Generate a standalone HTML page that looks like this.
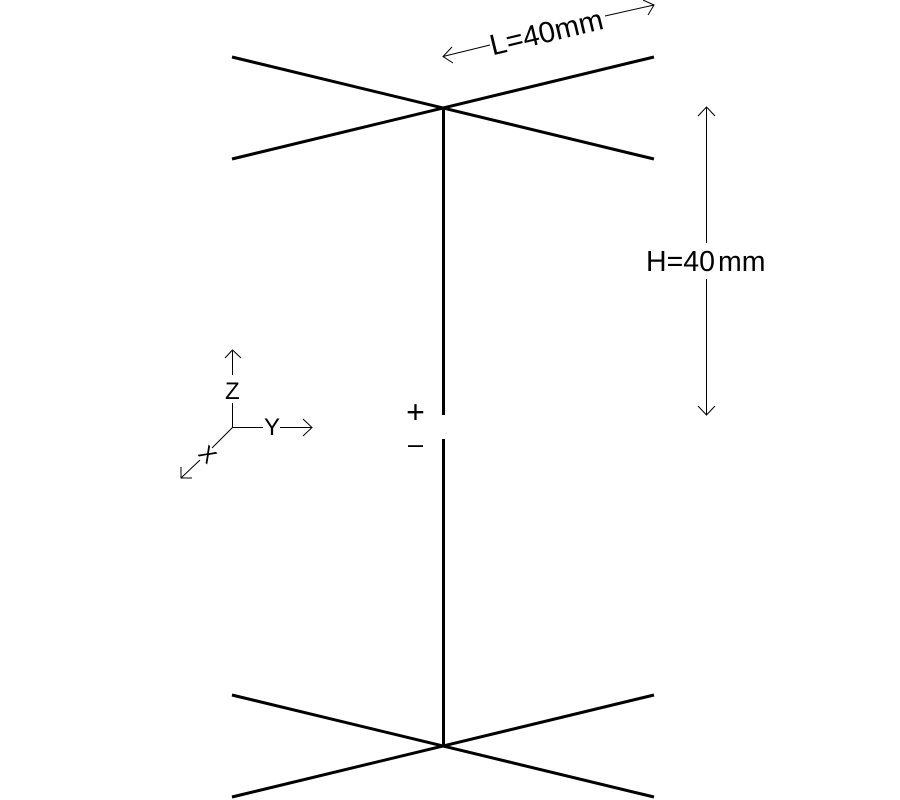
<!DOCTYPE html>
<html>
<head>
<meta charset="utf-8">
<style>
html,body{margin:0;padding:0;background:#fff;width:900px;height:800px;overflow:hidden}
svg{display:block}
text{font-family:"Liberation Sans",sans-serif;fill:#000}
</style>
</head>
<body>
<svg width="900" height="800" viewBox="0 0 900 800" xmlns="http://www.w3.org/2000/svg">
<g stroke="#000" stroke-width="3" fill="none">
<line x1="232" y1="57" x2="654" y2="159"/>
<line x1="232" y1="159" x2="654" y2="57"/>
<line x1="232" y1="695" x2="654" y2="797"/>
<line x1="232" y1="797" x2="654" y2="695"/>
<line x1="443.5" y1="107" x2="443.5" y2="415"/>
<line x1="443.5" y1="439" x2="443.5" y2="746"/>
</g>
<g stroke="#000" stroke-width="1" fill="none">
<path d="M490 45L443 56.500M452 47L443 56.500L453 63"/>
<path d="M605 16L654 5M643 0L654 5L648 15"/>
<path d="M706.500 243V108M698 116L706.500 107L715 116"/>
<path d="M706.500 279V415M698 406L706.500 415L715 406"/>
<path d="M232.500 375V351M225 358L232.500 350L241 358"/>
<path d="M232.500 403V427.500H263"/>
<path d="M280 427.500H312M303 419L312 427.500L303 436"/>
<path d="M232.500 427.500L212 448"/>
<path d="M200 460L181 478M181 467V478H192"/>
</g>
<text transform="translate(492.500 55.500) rotate(-13.500)" font-size="29.500">L=40mm</text>
<text y="271" font-size="28.500"><tspan x="646">H=40</tspan><tspan x="718">mm</tspan></text>
<text x="225" y="399" font-size="24">Z</text>
<text x="264" y="435" font-size="24">Y</text>
<text transform="translate(208 454) rotate(45)" x="0" y="8" text-anchor="middle" font-size="22">X</text>
<text x="415.500" y="423" text-anchor="middle" font-size="32">+</text>
<text x="415.500" y="453" text-anchor="middle" font-size="27">–</text>
</svg>
</body>
</html>
